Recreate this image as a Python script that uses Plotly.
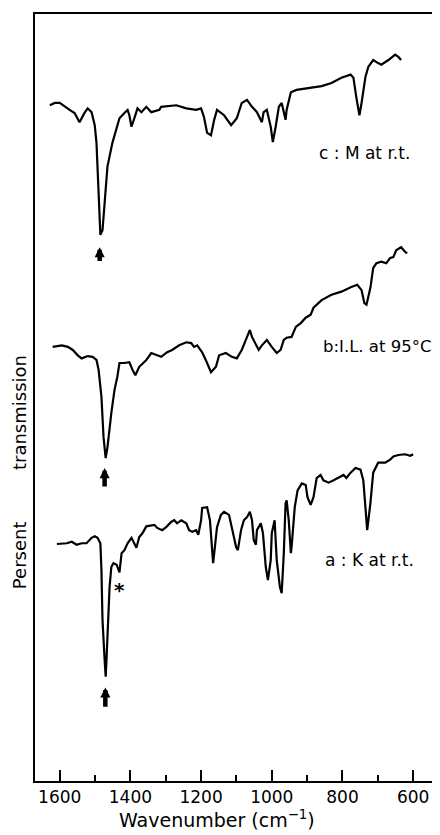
import plotly.graph_objects as go

# ---- data (wavenumber in cm^-1, transmission in arbitrary offset units) ----
wn_c = [1628, 1614, 1600, 1586, 1572, 1558, 1544, 1530, 1521, 1510, 1501, 1496, 1490, 1485, 1479,
        1470, 1465, 1451, 1431, 1417, 1408, 1403, 1397, 1389, 1380, 1369, 1355, 1341, 1318, 1313,
        1270, 1242, 1214, 1200, 1192, 1183, 1172, 1163, 1155, 1135, 1115, 1099, 1085, 1070, 1056,
        1042, 1028, 1023, 1014, 1003, 997, 989, 980, 972, 961, 958, 946, 930, 859, 831,
        803, 777, 769, 761, 752, 746, 735, 727, 713, 699, 690, 670, 651, 642, 634]
tr_c = [88.1, 88.4, 88.4, 87.9, 87.5, 87.1, 85.9, 87.1, 87.7, 87.2, 85.5, 83.2, 76.7, 71.2, 71.8,
        76.7, 80.1, 83.2, 86.4, 87.1, 87.5, 86.8, 85.3, 86.4, 87.7, 87.2, 87.9, 87.2, 87.5, 87.9,
        88.1, 87.7, 87.5, 87.7, 86.6, 84.5, 84.2, 86.2, 87.5, 86.8, 85.5, 86.4, 88.4, 88.8, 87.9,
        87.2, 85.9, 87.2, 87.5, 85.3, 83.3, 85.3, 87.9, 88.4, 86.2, 87.5, 89.8, 90.1, 90.6, 91.0,
        91.7, 92.1, 91.7, 89.2, 86.8, 88.4, 91.8, 93.1, 94.0, 93.6, 93.4, 94.0, 94.7, 94.4, 94.0]

wn_b = [1620, 1594, 1577, 1563, 1549, 1538, 1521, 1507, 1496, 1490, 1482, 1476, 1470, 1465, 1454,
        1445, 1437, 1431, 1417, 1403, 1394, 1386, 1375, 1355, 1341, 1327, 1313, 1296, 1282, 1262,
        1242, 1228, 1220, 1211, 1197, 1183, 1172, 1158, 1149, 1130, 1113, 1099, 1085, 1070, 1062,
        1056, 1045, 1037, 1028, 1014, 1000, 986, 975, 966, 958, 944, 932, 918, 904, 890,
        882, 859, 831, 803, 775, 758, 746, 738, 732, 721, 713, 704, 690, 676, 665,
        656, 648, 634, 623, 617]
tr_b = [56.6, 56.8, 56.6, 56.2, 55.5, 55.1, 55.4, 55.3, 54.9, 53.6, 50.1, 44.8, 42.1, 43.5, 48.0,
        51.0, 52.7, 54.5, 54.5, 54.6, 53.6, 52.9, 54.0, 54.9, 55.8, 55.5, 55.3, 55.9, 56.2, 56.8,
        57.2, 57.1, 56.6, 56.8, 55.9, 54.5, 53.3, 54.0, 55.5, 55.8, 55.3, 55.1, 56.2, 57.9, 58.8,
        57.9, 56.8, 56.2, 56.8, 57.5, 56.6, 55.8, 56.2, 57.5, 57.8, 57.9, 59.2, 59.7, 60.4, 60.8,
        61.7, 62.7, 63.4, 63.8, 64.4, 64.7, 64.0, 62.3, 62.1, 64.3, 66.9, 67.5, 67.7, 67.5, 68.2,
        68.3, 69.2, 69.6, 69.0, 68.8]

wn_a = [1608, 1580, 1566, 1552, 1538, 1524, 1510, 1501, 1493, 1485, 1482, 1479, 1473, 1470, 1468,
        1465, 1459, 1454, 1448, 1439, 1431, 1425, 1417, 1408, 1397, 1383, 1375, 1366, 1355, 1332,
        1324, 1310, 1299, 1284, 1276, 1268, 1256, 1242, 1234, 1225, 1214, 1208, 1200, 1197, 1183,
        1175, 1169, 1166, 1161, 1155, 1144, 1135, 1121, 1113, 1101, 1096, 1087, 1079, 1070, 1062,
        1056, 1051, 1045, 1042, 1031, 1025, 1017, 1011, 1003, 1000, 992, 986, 977, 972, 966,
        961, 958, 952, 946, 944, 935, 927, 915, 904, 899, 890, 882, 873, 862, 854,
        839, 825, 811, 797, 789, 777, 763, 749, 741, 735, 730, 721, 713, 699, 679,
        665, 656, 642, 623, 608, 600]
tr_a = [30.9, 31.0, 31.2, 30.8, 31.0, 31.0, 31.7, 31.9, 31.7, 31.0, 27.5, 21.0, 15.8, 13.6, 15.5,
        19.3, 25.3, 27.9, 28.4, 28.2, 27.2, 29.7, 30.1, 31.0, 31.7, 30.4, 31.8, 32.3, 33.2, 33.4,
        33.0, 32.7, 33.1, 33.8, 34.0, 33.6, 34.0, 33.6, 32.7, 32.5, 32.7, 32.1, 34.0, 35.6, 35.7,
        34.0, 30.5, 28.4, 30.5, 33.1, 34.7, 35.1, 34.7, 33.1, 30.5, 30.1, 32.7, 34.0, 34.4, 35.1,
        34.0, 31.4, 30.8, 32.7, 33.6, 32.3, 27.9, 26.2, 28.8, 32.3, 34.0, 28.8, 25.3, 24.5, 29.7,
        36.2, 36.6, 34.0, 29.7, 30.5, 35.7, 37.9, 38.8, 38.6, 37.0, 36.0, 37.0, 39.5, 39.9, 39.2,
        38.9, 39.2, 39.6, 39.9, 39.5, 40.2, 40.8, 40.6, 39.2, 35.7, 32.7, 36.2, 40.2, 41.5, 41.5,
        41.9, 42.3, 42.5, 42.6, 42.4, 42.6]

labels = ["c : M at r.t.", "b:I.L. at 95°C", "a : K at r.t."]
label_wn = [873, 862, 854]
label_tr = [81.9, 56.6, 28.8]
label_size = [17, 16.5, 17]

arrow_wn = [1487, 1473, 1471]
arrow_tip = [69.6, 40.8, 12.2]
arrow_tail = [67.6, 38.2, 9.5]

star_wn = 1431
star_tr = 25.6

x_range = [1670, 541]
tick_vals = [1600, 1400, 1200, 1000, 800, 600]
minor_vals = [1500, 1300, 1100, 900, 700]

FONT = "DejaVu Sans"
NB = "\u00a0"

fig = go.Figure()
for wn, tr in [(wn_c, tr_c), (wn_b, tr_b), (wn_a, tr_a)]:
    fig.add_trace(go.Scatter(x=wn, y=tr, mode="lines",
                             line=dict(color="black", width=2.2), showlegend=False,
                             hoverinfo="skip"))

for t, xw, yt, s in zip(labels, label_wn, label_tr, label_size):
    fig.add_annotation(x=xw, y=yt, text=t, showarrow=False, xanchor="left", yanchor="middle",
                       font=dict(family=FONT, size=s, color="black"))

for xw, tip, tail in zip(arrow_wn, arrow_tip, arrow_tail):
    fig.add_annotation(x=xw, y=tip, ax=xw, ay=tail, axref="x", ayref="y", xref="x", yref="y",
                       text="", showarrow=True, arrowhead=2, arrowsize=0.45, arrowwidth=4.5,
                       arrowcolor="black", standoff=0, startstandoff=0)

fig.add_annotation(x=star_wn, y=star_tr, text="<b>*</b>", showarrow=False, yanchor="middle",
                   font=dict(family=FONT, size=20, color="black"), yshift=-5)

fig.add_annotation(xref="paper", yref="paper", x=-0.037, y=0.403,
                   text="Persent" + NB * 9 + "transmission", textangle=-90, showarrow=False,
                   xanchor="center", yanchor="middle",
                   font=dict(family=FONT, size=18, color="black"))

fig.add_annotation(xref="paper", yref="paper", x=0.456, y=-0.049,
                   text="Wavenumber (cm<sup>−1</sup>)", showarrow=False,
                   xanchor="center", yanchor="middle",
                   font=dict(family=FONT, size=19, color="black"))

fig.update_xaxes(range=x_range, tickvals=tick_vals, ticks="inside", ticklen=11, tickwidth=2,
                 tickcolor="black", showline=True, mirror=True, linecolor="black", linewidth=2,
                 showgrid=False, zeroline=False,
                 tickfont=dict(family=FONT, size=17, color="black"),
                 minor=dict(tickvals=minor_vals, ticks="inside", ticklen=6,
                            tickwidth=2, tickcolor="black", showgrid=False))
fig.update_yaxes(range=[0, 100], showticklabels=False, ticks="", showline=True, mirror=True,
                 linecolor="black", linewidth=2, showgrid=False, zeroline=False)

# page body has an 8px margin, so the figure is sized to land on the same pixels
fig.update_layout(width=432, height=827, margin=dict(l=27, r=4, t=6, b=54),
                  plot_bgcolor="white", paper_bgcolor="white",
                  font=dict(family=FONT, color="black"))

fig.write_html("out.html")
